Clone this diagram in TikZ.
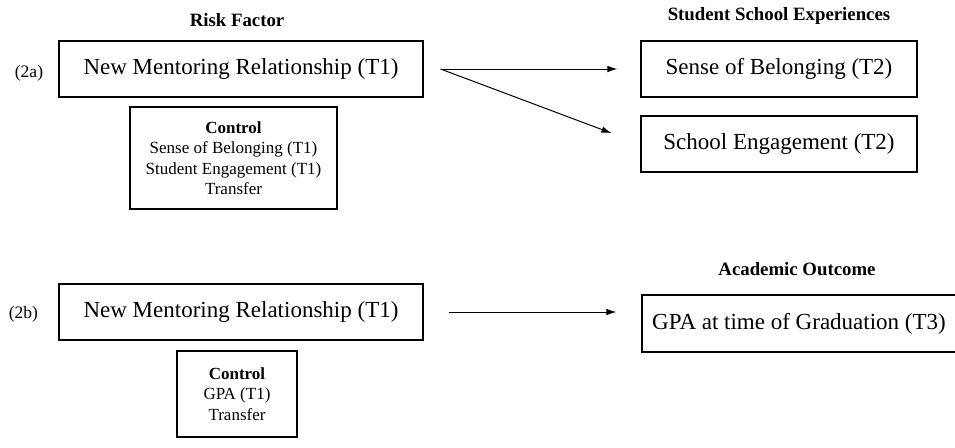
\documentclass[tikz,border=0pt]{standalone}
\usepackage{fontspec}
\setmainfont{Liberation Serif}
\usetikzlibrary{arrows.meta}
\tikzset{box/.style={draw, line width=1.1pt, inner sep=0pt, minimum height=56pt, font=\fontsize{23}{27}\selectfont},
  ctrl/.style={draw, line width=1.1pt, inner sep=0pt, align=center, font=\fontsize{17}{20.5}\selectfont},
  head/.style={anchor=base, font=\fontsize{18.8}{22}\selectfont\bfseries},
  tag/.style={anchor=base, font=\fontsize{17.5}{20}\selectfont},
  link/.style={-{Latex[length=10pt,width=6.5pt]}, line width=1pt}}

\begin{document}
\begin{tikzpicture}[x=1pt, y=-1pt]
\useasboundingbox (0,0) rectangle (955,447);
% (2a)
\node[head] (risk) at (237,27) {Risk Factor};
\node[head] (exper) at (779,20.5) {Student School Experiences};
\node[tag] (lab2a) at (29,77) {(2a)};
\node[box, minimum width=364pt] (ment2a) at (241,69) {New Mentoring Relationship (T1)};
\node[ctrl, minimum width=207pt, minimum height=102pt] (ctrl2a) at (233.5,158)
  {\textbf{Control}\\Sense of Belonging (T1)\\Student Engagement (T1)\\Transfer};
\node[box, minimum width=276pt] (belong) at (779,69) {Sense of Belonging (T2)};
\node[box, minimum width=276pt] (engage) at (779,144) {School Engagement (T2)};
\coordinate (fork) at ([xshift=17pt]ment2a.east);
\draw[link, shorten >=23pt] (fork) -- (belong.west);
\draw[link, shorten >=31pt] (fork) -- (engage.west);
% (2b)
\node[head] (outc) at (797,275) {Academic Outcome};
\node[tag] (lab2b) at (23.5,318) {(2b)};
\node[box, minimum width=364pt] (ment2b) at (241,312) {New Mentoring Relationship (T1)};
\node[ctrl, minimum width=120pt, minimum height=86pt] (ctrl2b) at (237,394)
  {\textbf{Control}\\GPA (T1)\\Transfer};
\node[box, minimum width=314pt, minimum height=57pt] (gpa) at (799,323.5) {GPA at time of Graduation (T3)};
\draw[link, shorten <=25pt, shorten >=25pt] (ment2b.east) -- (ment2b.east -| gpa.west);
\end{tikzpicture}
\end{document}
